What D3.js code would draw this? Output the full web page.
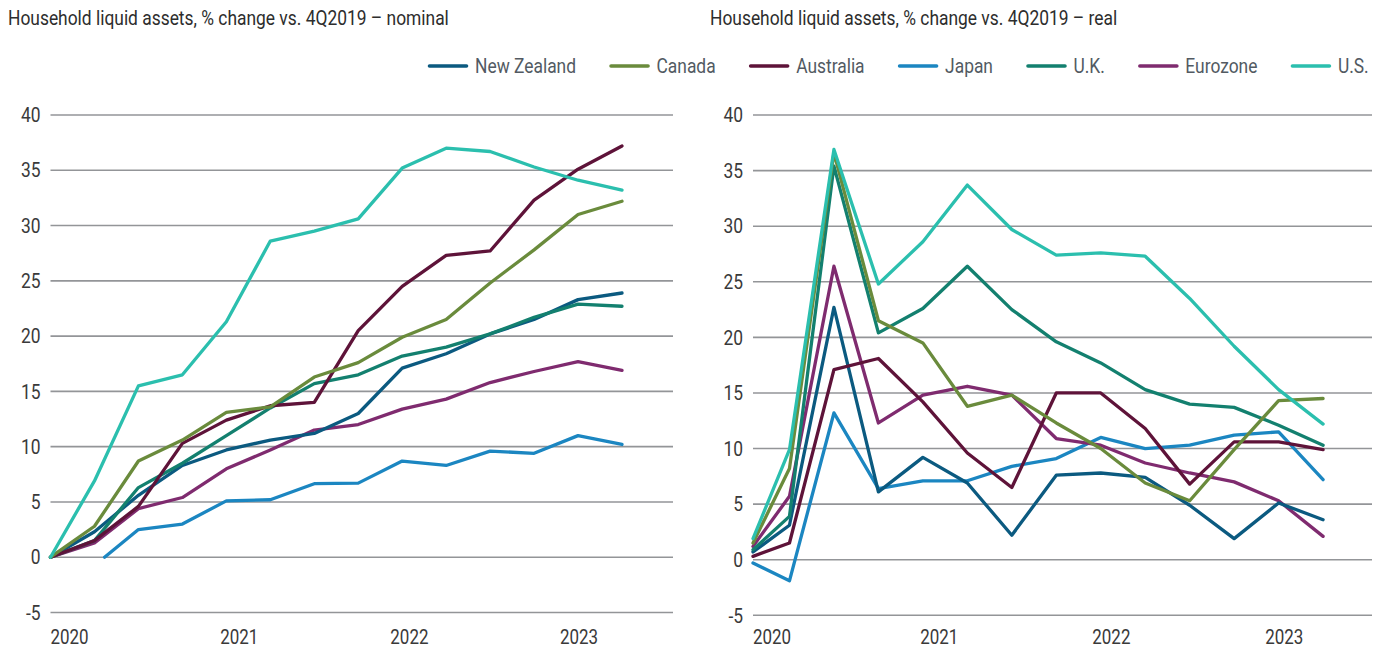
<!DOCTYPE html>
<html>
<head>
<meta charset="utf-8">
<script src="https://cdn.jsdelivr.net/npm/d3@7"></script>
<style>
  body { margin: 0; background: #fff; }
  text { font-family: Roboto, 'Noto Sans', sans-serif; }
</style>
</head>
<body>
<svg id="chart" width="1385" height="648"></svg>
<script>
// series names and colours, in legend order
var names = ['New Zealand', 'Canada', 'Australia', 'Japan', 'U.K.', 'Eurozone', 'U.S.']
var colors = ['#0b5a80', '#6a8b3c', '#5e1339', '#1b86c1', '#13806f', '#7f2b6f', '#2bbfae']

// quarter index: 0 = 4Q2019 ... 13 = 1Q2023
var nominalQ = d3.range(14)
var japanNominalQ = [1.23].concat(d3.range(2, 14))
var realQ = [0.18].concat(d3.range(1, 14))

var nominalNZ  = [0, 2.3, 5.6, 8.3, 9.7, 10.6, 11.2, 13.0, 17.1, 18.4, 20.2, 21.5, 23.3, 23.9]
var nominalCan = [0, 2.8, 8.7, 10.6, 13.1, 13.6, 16.3, 17.6, 19.9, 21.5, 24.8, 27.8, 31.0, 32.2]
var nominalAus = [0, 1.5, 4.6, 10.3, 12.4, 13.7, 14.0, 20.5, 24.5, 27.3, 27.7, 32.3, 35.1, 37.2]
var nominalJap = [0, 2.5, 3.0, 5.1, 5.2, 6.65, 6.7, 8.7, 8.3, 9.6, 9.4, 11.0, 10.2]
var nominalUK  = [0, 1.5, 6.3, 8.5, 11.0, 13.5, 15.7, 16.5, 18.2, 19.0, 20.2, 21.7, 22.9, 22.7]
var nominalEur = [0, 1.3, 4.4, 5.4, 8.0, 9.7, 11.5, 12.0, 13.4, 14.3, 15.8, 16.8, 17.7, 16.9]
var nominalUS  = [0, 6.9, 15.5, 16.5, 21.3, 28.6, 29.5, 30.6, 35.2, 37.0, 36.7, 35.3, 34.1, 33.2]

var realNZ  = [0.7, 3.1, 22.7, 6.1, 9.2, 6.9, 2.2, 7.6, 7.8, 7.4, 4.9, 1.9, 5.1, 3.6]
var realCan = [1.5, 8.2, 36.6, 21.5, 19.5, 13.8, 14.8, 12.3, 10.0, 6.9, 5.3, 9.9, 14.3, 14.5]
var realAus = [0.3, 1.5, 17.1, 18.1, 14.2, 9.6, 6.5, 15.0, 15.0, 11.8, 6.8, 10.6, 10.6, 9.9]
var realJap = [-0.3, -1.9, 13.2, 6.4, 7.1, 7.1, 8.4, 9.1, 11.0, 10.0, 10.3, 11.2, 11.5, 7.2]
var realUK  = [0.9, 3.9, 35.4, 20.4, 22.6, 26.4, 22.5, 19.6, 17.7, 15.3, 14.0, 13.7, 12.1, 10.3]
var realEur = [1.2, 5.7, 26.4, 12.3, 14.8, 15.6, 14.8, 10.9, 10.3, 8.7, 7.8, 7.0, 5.3, 2.1]
var realUS  = [1.9, 9.9, 36.9, 24.8, 28.6, 33.7, 29.7, 27.4, 27.6, 27.3, 23.5, 19.2, 15.3, 12.2]

var yTicks = d3.range(-5, 41, 5)
var yearLabels = ['2020', '2021', '2022', '2023']
var nominalYearQ = [0, 3.86, 7.73, 11.59]
var realYearQ = [0.18, 3.94, 7.81, 11.7]

var panels = [
  {
    title: 'Household liquid assets, % change vs. 4Q2019 \u2013 nominal',
    titleX: 8, x0: 50.5, x1: 673, qDomain: [0, 14.16], yRange: [612.5, 115],
    yearQ: nominalYearQ,
    series: [nominalNZ, nominalCan, nominalAus, nominalJap, nominalUK, nominalEur, nominalUS],
    qs: [nominalQ, nominalQ, nominalQ, japanNominalQ, nominalQ, nominalQ, nominalQ]
  },
  {
    title: 'Household liquid assets, % change vs. 4Q2019 \u2013 real',
    titleX: 710, x0: 753, x1: 1372, qDomain: [0.18, 14.1], yRange: [615.3, 115],
    yearQ: realYearQ,
    series: [realNZ, realCan, realAus, realJap, realUK, realEur, realUS],
    qs: [realQ, realQ, realQ, realQ, realQ, realQ, realQ]
  }
]

var svg = d3.select('#chart')
var squeeze = 0.87

function condText(sel, x, y, str, anchor, size, fill){
  return sel.append('text')
    .attr('transform', `translate(${x},${y}) scale(${squeeze},1)`)
    .attr('text-anchor', anchor || 'start')
    .style('font-size', (size || 20) + 'px')
    .style('fill', fill || '#333')
    .text(str)
}

// draw order (bottom to top)
var drawOrder = [3, 5, 0, 4, 2, 1, 6]

panels.forEach(p => {
  var g = svg.append('g')
  var x = d3.scaleLinear().domain(p.qDomain).range([p.x0, p.x1])
  var y = d3.scaleLinear().domain([-5, 40]).range(p.yRange)

  condText(g, p.titleX, 25, p.title, 'start', 20, '#2d2d2d')

  g.selectAll('line.grid').data(yTicks).join('line')
    .attr('class', 'grid')
    .attr('x1', p.x0).attr('x2', p.x1)
    .attr('y1', d => y(d)).attr('y2', d => y(d))
    .style('stroke', '#939598').style('stroke-width', 1.6)

  yTicks.forEach(d => condText(g, p.x0 - 10, y(d) + 7.2, d, 'end', 20, '#3a3a3a'))

  yearLabels.forEach((d, i) => condText(g, x(p.yearQ[i]), 644, d, 'start', 19.5, '#3a3a3a'))

  var line = d3.line()
    .defined(d => d[1] != null)
    .x(d => x(d[0]))
    .y(d => y(d[1]))

  drawOrder.forEach(i => {
    var pts = p.series[i].map((v, j) => [p.qs[i][j], v])
    g.append('path')
      .datum(pts)
      .attr('d', line)
      .style('fill', 'none')
      .style('stroke', colors[i])
      .style('stroke-width', 3.3)
      .style('stroke-linejoin', 'round')
      .style('stroke-linecap', 'round')
  })
})

// legend
var lg = svg.append('g')
var lx = 428
names.forEach((name, i) => {
  lg.append('line')
    .attr('x1', lx + 1.5).attr('x2', lx + 38.5)
    .attr('y1', 66).attr('y2', 66)
    .style('stroke', colors[i]).style('stroke-width', 3.6)
    .style('stroke-linecap', 'round')
  var t = condText(lg, lx + 47, 73, name, 'start', 20, '#525a62')
  lx += 47 + t.node().getComputedTextLength() * squeeze + 33.5
})
</script>
</body>
</html>
